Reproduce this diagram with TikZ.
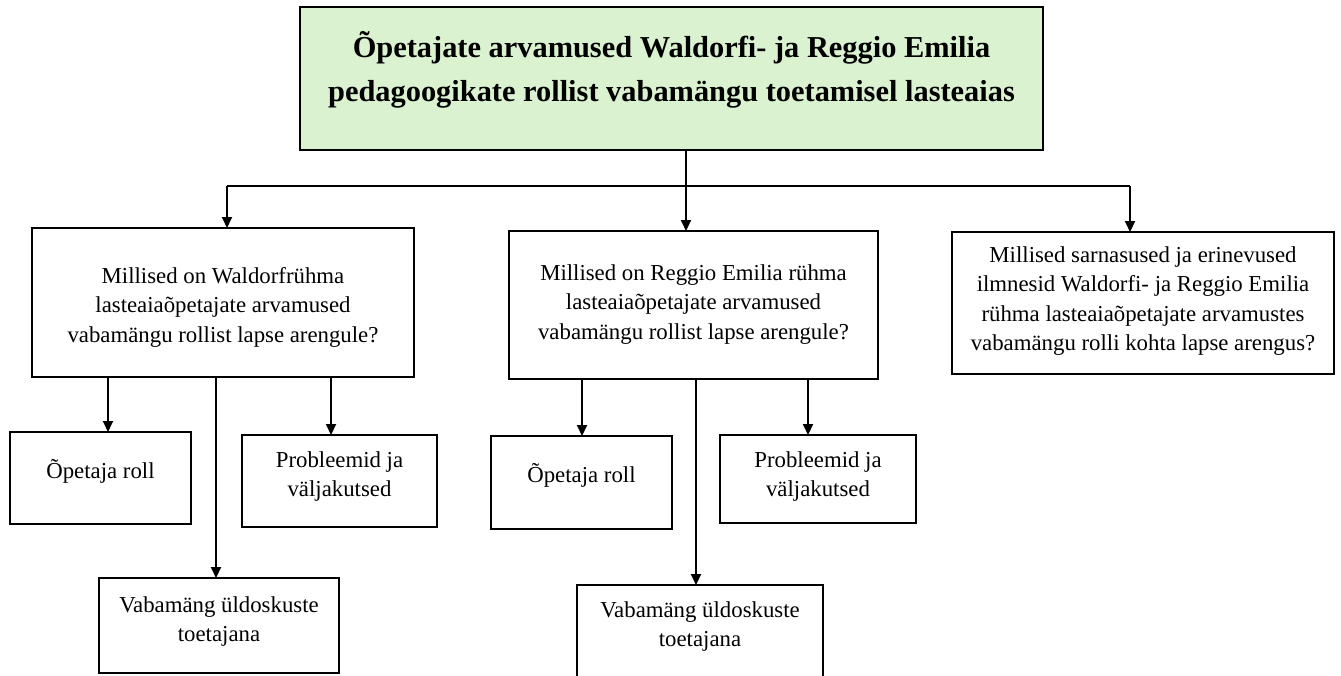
\documentclass[tikz,border=0pt]{standalone}
\usepackage{fontspec}
\setmainfont{Liberation Serif}
\usetikzlibrary{arrows.meta}
\definecolor{titlegreen}{RGB}{218,242,208}
\newcommand{\bodyfnt}{\fontsize{22.8}{29.5}\selectfont}
\newcommand{\titlefnt}{\fontsize{30.4}{44}\selectfont\bfseries}
\tikzset{
  box/.style={draw=black, line width=2.4pt, rectangle, inner sep=0pt, outer sep=0pt},
  titlebox/.style={box, fill=titlegreen},
  txt/.style={anchor=north, inner sep=0pt, align=center, font=\bodyfnt},
  ttl/.style={anchor=north, inner sep=0pt, align=center, font=\titlefnt},
  conn/.style={draw=black, line width=2pt},
  arr/.style={conn, -{Triangle[length=11pt,width=10pt]}}
}
\begin{document}
\begin{tikzpicture}[x=1pt,y=-1pt]
\useasboundingbox (0,0) rectangle (1341,675);
% boxes
\node[titlebox, minimum width=743, minimum height=143] (top) at (671.5,78.5) {};
\node[box, minimum width=382, minimum height=149] (q1) at (223,302.5) {};
\node[box, minimum width=369, minimum height=148] (q2) at (693.5,305) {};
\node[box, minimum width=382, minimum height=142] (q3) at (1143,303) {};
\node[box, minimum width=181, minimum height=92] (r1a) at (100.5,478) {};
\node[box, minimum width=195, minimum height=92] (r1b) at (339.5,481) {};
\node[box, minimum width=240, minimum height=95] (r1c) at (219,625.5) {};
\node[box, minimum width=181, minimum height=93] (r2a) at (581.5,482.5) {};
\node[box, minimum width=196, minimum height=88] (r2b) at (818,479) {};
\node[box, minimum width=246, minimum height=105] (r2c) at (700,637.5) {};
% texts
\node[ttl] (t0) at (671.5,26.2) {\strut Õpetajate arvamused Waldorfi- ja Reggio Emilia\\pedagoogikate rollist vabamängu toetamisel lasteaias};
\node[txt] (t1) at (223,262.3) {\strut Millised on Waldorfrühma\\lasteaiaõpetajate arvamused\\vabamängu rollist lapse arengule?};
\node[txt] (t2) at (693.5,259.3) {\strut Millised on Reggio Emilia rühma\\lasteaiaõpetajate arvamused\\vabamängu rollist lapse arengule?};
\node[txt] (t3) at (1143,241.3) {\strut Millised sarnasused ja erinevused\\ilmnesid Waldorfi- ja Reggio Emilia\\rühma lasteaiaõpetajate arvamustes\\vabamängu rolli kohta lapse arengus?};
\node[txt] (ta1) at (100.5,457.3) {\strut Õpetaja roll};
\node[txt] (tb1) at (339.5,446.3) {\strut Probleemid ja\\väljakutsed};
\node[txt] (tc1) at (219,591.3) {\strut Vabamäng üldoskuste\\toetajana};
\node[txt] (ta2) at (581.5,461.3) {\strut Õpetaja roll};
\node[txt] (tb2) at (818,446.3) {\strut Probleemid ja\\väljakutsed};
\node[txt] (tc2) at (700,596.3) {\strut Vabamäng üldoskuste\\toetajana};
% connector coordinates
\coordinate (bus) at (0,186);
\coordinate (xt) at (686,0);
\coordinate (x1) at (227,0);
\coordinate (x3) at (1130,0);
\coordinate (x1a) at (108,0);
\coordinate (x1c) at (216,0);
\coordinate (x1b) at (331,0);
\coordinate (x2a) at (582,0);
\coordinate (x2c) at (696,0);
\coordinate (x2b) at (808,0);
% connectors
\draw[conn] (top.south -| xt) -- (xt |- bus);
\draw[conn] (x1 |- bus) -- (x3 |- bus);
\draw[arr] (x1 |- bus) -- (q1.north -| x1);
\draw[arr] (xt |- bus) -- (q2.north -| xt);
\draw[arr] (x3 |- bus) -- (q3.north -| x3);
\draw[arr] (q1.south -| x1a) -- (r1a.north -| x1a);
\draw[arr] (q1.south -| x1c) -- (r1c.north -| x1c);
\draw[arr] (q1.south -| x1b) -- (r1b.north -| x1b);
\draw[arr] (q2.south -| x2a) -- (r2a.north -| x2a);
\draw[arr] (q2.south -| x2c) -- (r2c.north -| x2c);
\draw[arr] (q2.south -| x2b) -- (r2b.north -| x2b);
\end{tikzpicture}
\end{document}
